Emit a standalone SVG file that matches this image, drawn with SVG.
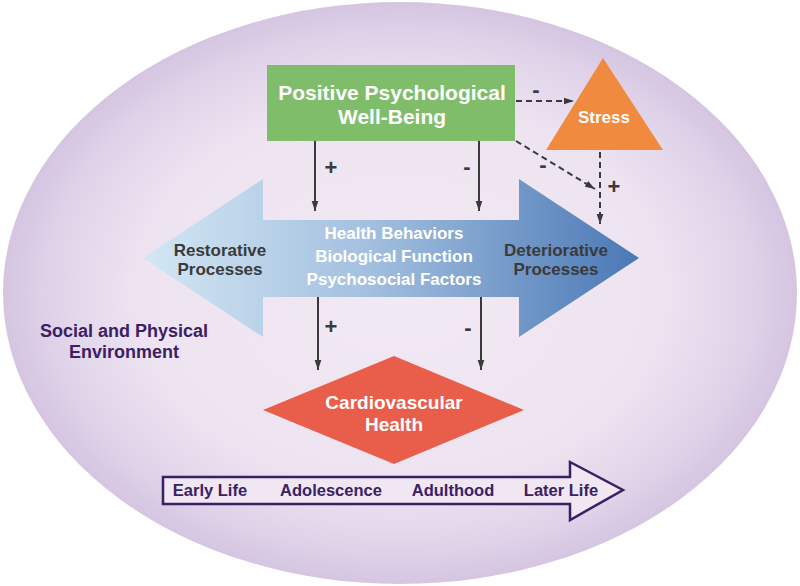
<svg xmlns="http://www.w3.org/2000/svg" width="800" height="586" viewBox="0 0 800 586">
<defs>
<radialGradient id="bg" cx="0.5" cy="0.5" r="0.5">
<stop offset="0" stop-color="#f1e9f3"/>
<stop offset="0.65" stop-color="#eee4f1"/>
<stop offset="0.88" stop-color="#e0d3e9"/>
<stop offset="1" stop-color="#d5c5e1"/>
</radialGradient>
<linearGradient id="dbl" x1="0" y1="0" x2="1" y2="0">
<stop offset="0" stop-color="#d3e7f3"/>
<stop offset="0.45" stop-color="#a4c0e0"/>
<stop offset="1" stop-color="#4a78b5"/>
</linearGradient>
<marker id="ah" markerUnits="userSpaceOnUse" markerWidth="10" markerHeight="16" refX="15" refY="5" orient="auto" viewBox="0 0 15 10">
<path d="M0,0 L15,5 L0,10 Z" fill="#3a3a3a"/>
</marker>
</defs>
<style>
.t{font-family:"Liberation Sans",Arial,sans-serif;font-weight:bold;text-anchor:middle}
.w{fill:#ffffff}
.g{fill:#3a3a3a}
.p{fill:#3a2163}
.c{stroke:#3a3a3a;stroke-width:2;fill:none}
.d{stroke-dasharray:6,4}
.s{font-family:"Liberation Sans",Arial,sans-serif;font-weight:bold;font-size:22px;fill:#3a3a3a;text-anchor:middle}
</style>
<rect width="800" height="586" fill="#ffffff"/>
<ellipse cx="400" cy="293" rx="397" ry="291" fill="url(#bg)"/>

<g id="context">
<text class="t p" x="124" y="337" font-size="18">Social  and Physical</text>
<text class="t p" x="124" y="358" font-size="18">Environment</text>
</g>

<g id="processes">
<polygon points="143,258 263,179 263,220 519,220 519,179 639,258 519,337 519,297 263,297 263,337" fill="url(#dbl)"/>
<text class="t g" x="220" y="256" font-size="17">Restorative</text>
<text class="t g" x="220" y="275" font-size="17">Processes</text>
<text class="t w" x="394" y="239" font-size="17">Health Behaviors</text>
<text class="t w" x="394" y="262" font-size="17">Biological Function</text>
<text class="t w" x="394" y="285" font-size="17">Psychosocial Factors</text>
<text class="t g" x="556" y="256" font-size="17">Deteriorative</text>
<text class="t g" x="556" y="275" font-size="17">Processes</text>
</g>

<g id="wellbeing">
<rect x="267" y="65" width="248" height="76" fill="#80bd6b"/>
<text class="t w" x="392" y="100" font-size="21">Positive Psychological</text>
<text class="t w" x="392" y="124" font-size="21">Well-Being</text>
</g>

<g id="stress">
<polygon points="603,58 663,150 546,150" fill="#ef8a3e"/>
<text class="t w" x="604" y="123" font-size="17">Stress</text>
</g>

<g id="cardio">
<polygon points="263,410 394,356 524,410 394,464" fill="#e85e4b"/>
<text class="t w" x="394" y="409" font-size="19">Cardiovascular</text>
<text class="t w" x="394" y="431" font-size="19">Health</text>
</g>

<g id="lifespan">
<polygon points="163,477 570,477 570,462 623,490 570,520 570,504 163,504" fill="#f0e7f3" stroke="#3b1f66" stroke-width="2.5" stroke-linejoin="miter"/>
<text class="t p" x="210" y="496" font-size="16.5">Early Life</text>
<text class="t p" x="331" y="496" font-size="16.5">Adolescence</text>
<text class="t p" x="453" y="496" font-size="16.5">Adulthood</text>
<text class="t p" x="561" y="496" font-size="16.5">Later Life</text>
</g>

<g id="connectors">
<line class="c" x1="315" y1="141" x2="315" y2="211" marker-end="url(#ah)"/>
<line class="c" x1="479" y1="141" x2="479" y2="211" marker-end="url(#ah)"/>
<line class="c" x1="318" y1="297" x2="318" y2="370" marker-end="url(#ah)"/>
<line class="c" x1="481" y1="297" x2="481" y2="370" marker-end="url(#ah)"/>
<line class="c d" x1="516" y1="101" x2="574" y2="101" marker-end="url(#ah)"/>
<line class="c d" x1="516" y1="141" x2="595" y2="189" marker-end="url(#ah)"/>
<line class="c d" x1="600" y1="152" x2="600" y2="224" marker-end="url(#ah)"/>
<text class="s" x="331" y="175">+</text>
<text class="s" x="467" y="174">-</text>
<text class="s" x="331" y="334">+</text>
<text class="s" x="468" y="335">-</text>
<text class="s" x="536" y="97">-</text>
<text class="s" x="543" y="172">-</text>
<text class="s" x="614" y="194">+</text>
</g>
</svg>
